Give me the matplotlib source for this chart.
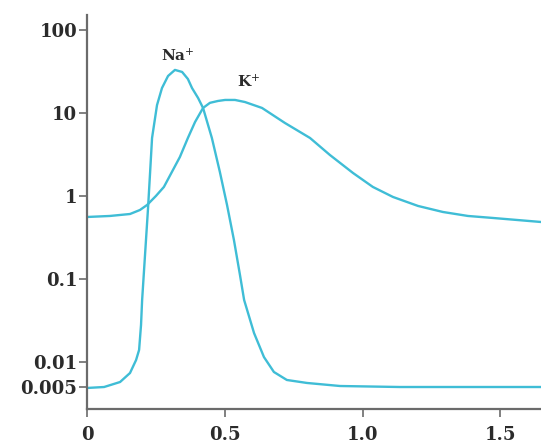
"""Na+ and K+ conductance curves on a log scale"""
import matplotlib.pyplot as plt
from matplotlib.ticker import NullLocator

LINE_COLOR = '#3fbdd6'
AXIS_COLOR = '#6b6b6b'
TEXT_COLOR = '#2b2b2b'

# Na+ curve (time, conductance)
na_time = [0.0, 0.062, 0.120, 0.156, 0.178, 0.189, 0.196, 0.200, 0.207,
           0.214, 0.221, 0.229, 0.236, 0.254, 0.272, 0.294, 0.319, 0.345,
           0.366, 0.381, 0.403, 0.421, 0.453, 0.482, 0.508, 0.533, 0.555,
           0.570, 0.606, 0.642, 0.678, 0.725, 0.798, 0.918, 1.135, 1.647]
na_cond = [0.00484, 0.00497, 0.00571, 0.00733, 0.0105, 0.0139, 0.0278,
           0.0556, 0.128, 0.294, 0.675, 1.94, 4.98, 12.4, 19.9, 27.8, 32.9,
           31.1, 25.6, 19.9, 15.1, 11.45, 4.98, 1.94, 0.776, 0.294, 0.111,
           0.0556, 0.0222, 0.0114, 0.00754, 0.00604, 0.00556, 0.00511,
           0.00497, 0.00497]

# K+ curve (time, conductance)
k_time = [0.0, 0.083, 0.156, 0.192, 0.218, 0.250, 0.279, 0.308, 0.337,
          0.366, 0.392, 0.421, 0.446, 0.475, 0.501, 0.537, 0.573, 0.635,
          0.718, 0.809, 0.881, 0.965, 1.037, 1.110, 1.201, 1.291, 1.382,
          1.473, 1.647]
k_cond = [0.556, 0.572, 0.604, 0.675, 0.776, 0.996, 1.28, 1.94, 2.94, 4.98,
          7.76, 11.45, 13.2, 13.9, 14.3, 14.3, 13.5, 11.45, 7.55, 4.98, 3.11,
          1.885, 1.28, 0.969, 0.755, 0.639, 0.572, 0.541, 0.484]

y_ticks = [100, 10, 1, 0.1, 0.01, 0.005]
y_labels = ['100', '10', '1', '0.1', '0.01', '0.005']
x_ticks = [0, 0.5, 1.0, 1.5]
x_labels = ['0', '0.5', '1.0', '1.5']

plt.rcParams['font.family'] = ['DejaVu Serif']
plt.rcParams['mathtext.fontset'] = 'dejavuserif'

fig = plt.figure(figsize=(5.41, 4.48), dpi=100)
ax = fig.add_axes([87 / 541, 39 / 448, 454 / 541, 394 / 448])

ax.plot(na_time, na_cond, color=LINE_COLOR, lw=1.7, solid_joinstyle='round')
ax.plot(k_time, k_cond, color=LINE_COLOR, lw=1.7, solid_joinstyle='round')

ax.set_yscale('log')
ax.set_xlim(0, 1.647)
ax.set_ylim(0.0027, 151)

ax.set_yticks(y_ticks)
ax.set_yticklabels(y_labels)
ax.yaxis.set_minor_locator(NullLocator())
ax.set_xticks(x_ticks)
ax.set_xticklabels(x_labels)

for side in ['top', 'right']:
    ax.spines[side].set_visible(False)
for side in ['left', 'bottom']:
    ax.spines[side].set_color(AXIS_COLOR)
    ax.spines[side].set_linewidth(1.6)

ax.tick_params(axis='both', colors=AXIS_COLOR, width=1.2, length=6,
               labelcolor=TEXT_COLOR, labelsize=13)
ax.tick_params(axis='y', pad=1)
ax.tick_params(axis='x', pad=6)
for lbl in ax.get_xticklabels() + ax.get_yticklabels():
    lbl.set_fontweight('bold')

ax.text(0.330, 48.5, 'Na$^{+}$', ha='center', va='center', fontsize=11,
        fontweight='bold', color=TEXT_COLOR)
ax.text(0.588, 23.5, 'K$^{+}$', ha='center', va='center', fontsize=11,
        fontweight='bold', color=TEXT_COLOR)

fig.savefig('out.png', dpi=100)
